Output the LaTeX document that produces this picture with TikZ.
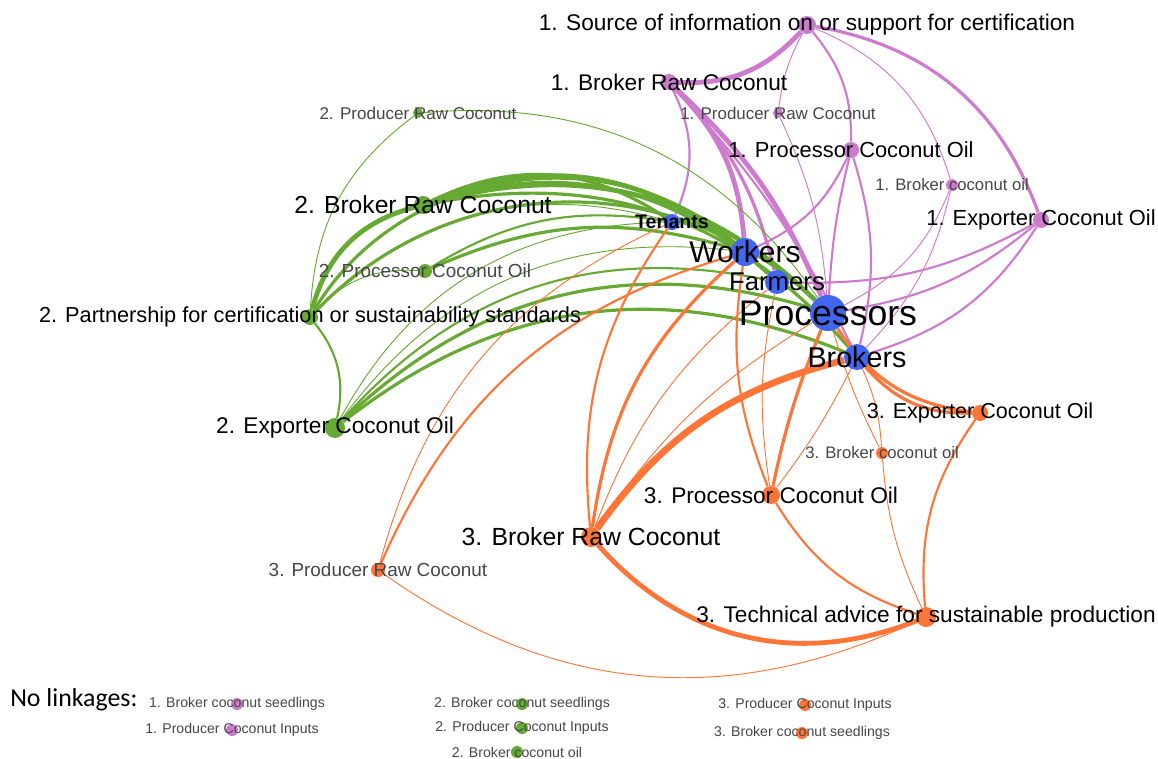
\documentclass[tikz,border=0pt]{standalone}
\usepackage{fontspec}
\setmainfont{Liberation Sans}
\newfontfamily\calibrifont{Carlito}
\definecolor{cpurple}{RGB}{206,122,206}
\definecolor{cgreen}{RGB}{102,170,51}
\definecolor{corange}{RGB}{255,117,56}
\definecolor{cblue}{RGB}{66,102,240}
\definecolor{labgray}{RGB}{70,70,70}
\pgfdeclarelayer{edges}
\pgfsetlayers{edges,main}
\begin{document}
\begin{tikzpicture}
[x=0.75pt, y=-0.75pt,
 dot/.style={circle, inner sep=0pt, minimum size=1.5*#1},
 bnode/.style={dot=#1, fill=cblue},
 pnode/.style={dot=#1, fill=cpurple},
 gnode/.style={dot=#1, fill=cgreen},
 onode/.style={dot=#1, fill=corange},
 txt/.style={font=\fontsize{#1}{#1}\selectfont, inner sep=0pt},
 gtxt/.style={txt=#1, text=labgray},
 edgeA/.style={line width=0.7pt},
 edgeB/.style={line width=1.6pt},
 edgeC/.style={line width=2.4pt},
 edgeD/.style={line width=3.6pt}]
\useasboundingbox (0,0) rectangle (1158,758);
% actors
\node[bnode=8, label={[txt=14.7, font=\fontsize{14.7}{14.7}\selectfont\bfseries]center:Tenants}] (tenants) at (672,222) {};
\node[bnode=14, label={[txt=22.5]center:Workers}] (workers) at (745,252) {};
\node[bnode=12, label={[txt=19.3]center:Farmers}] (farmers) at (777,282) {};
\node[bnode=18, label={[txt=26.7]center:Processors}] (processors) at (828,313) {};
\node[bnode=13, label={[txt=21.5]center:Brokers}] (brokers) at (857,357) {};
% 1. certification support
\node[pnode=9, label={[txt=17]center:1. Source of information on or support for certification}] (src1) at (807,25) {};
\node[pnode=8, label={[txt=17]center:1. Broker Raw Coconut}] (brc1) at (669,82) {};
\node[pnode=5, label={[gtxt=12.7]center:1. Producer Raw Coconut}] (prc1) at (778,113) {};
\node[pnode=8, label={[txt=16.4]center:1. Processor Coconut Oil}] (pco1) at (851,150) {};
\node[pnode=6, label={[gtxt=12.5]center:1. Broker coconut oil}] (bco1) at (952,185) {};
\node[pnode=8, label={[txt=16.4]center:1. Exporter Coconut Oil}] (exp1) at (1041,220) {};
% 2. partnership
\node[gnode=5, label={[gtxt=12.8]center:2. Producer Raw Coconut}] (prc2) at (418,113) {};
\node[gnode=9, label={[txt=18.5]center:2. Broker Raw Coconut}] (brc2) at (423,205) {};
\node[gnode=7, label={[gtxt=14.2]center:2. Processor Coconut Oil}] (pco2) at (425,271) {};
\node[gnode=8, label={[txt=16.3]center:2. Partnership for certification or sustainability standards}] (part2) at (310,317) {};
\node[gnode=10, label={[txt=17]center:2. Exporter Coconut Oil}] (exp2) at (335,428) {};
% 3. technical advice
\node[onode=8, label={[txt=16.2]center:3. Exporter Coconut Oil}] (exp3) at (980,413) {};
\node[onode=6, label={[gtxt=12.5]center:3. Broker coconut oil}] (bco3) at (882,453) {};
\node[onode=9, label={[txt=17]center:3. Processor Coconut Oil}] (pco3) at (771,495) {};
\node[onode=10, label={[txt=18.6]center:3. Broker Raw Coconut}] (brc3) at (591,537) {};
\node[onode=7, label={[gtxt=14.2]center:3. Producer Raw Coconut}] (prc3) at (378,570) {};
\node[onode=10, label={[txt=17]center:3. Technical advice for sustainable production}] (tech3) at (926,617) {};
% no linkages
\node[txt=19.4, font=\calibrifont\fontsize{19.4}{19.4}\selectfont, anchor=west] (nolink) at (10,700) {No linkages:};
\node[pnode=6, label={[gtxt=10.6]center:1. Broker coconut seedlings}] (bcs1) at (237,704) {};
\node[pnode=6, label={[gtxt=10.6]center:1. Producer Coconut Inputs}] (pci1) at (232,730) {};
\node[gnode=6, label={[gtxt=10.6]center:2. Broker coconut seedlings}] (bcs2) at (522,704) {};
\node[gnode=6, label={[gtxt=10.6]center:2. Producer Coconut Inputs}] (pci2) at (522,728) {};
\node[gnode=6, label={[gtxt=10.6]center:2. Broker coconut oil}] (bco2) at (517,752) {};
\node[onode=6, label={[gtxt=10.6]center:3. Producer Coconut Inputs}] (pci3) at (805,705) {};
\node[onode=6, label={[gtxt=10.6]center:3. Broker coconut seedlings}] (bcs3) at (802,733) {};
% linkages
\begin{pgfonlayer}{edges}
\begin{scope}[cpurple]
\draw[edgeD] (src1) to[bend left=25] (brc1);
\draw[edgeA] (src1) to[bend right=10] (prc1);
\draw[edgeB] (src1) to[bend left=20] (pco1);
\draw[edgeA] (src1) to[bend left=25] (bco1);
\draw[edgeC] (src1) to[bend left=30] (exp1);
\draw[edgeB] (brc1) to[bend left=25] (tenants);
\foreach \a/\w/\b in {workers/edgeD/20, farmers/edgeC/15, processors/edgeD/12, brokers/edgeB/8}
  \draw[\w] (brc1) to[bend left=\b] (\a);
\draw[edgeA] (prc1) to[bend left=10] (processors);
\draw[edgeB] (pco1) to[bend left=20] (workers);
\draw[edgeB] (pco1) to[bend right=5] (processors);
\draw[edgeB] (pco1) to[bend left=15] (brokers);
\draw[edgeA] (bco1) to[bend left=20] (processors);
\draw[edgeA] (bco1) to[bend left=15] (brokers);
\foreach \a/\b in {farmers/15, processors/15, brokers/20}
  \draw[edgeB] (exp1) to[bend left=\b] (\a);
\end{scope}
\begin{scope}[cgreen]
\draw[edgeD] (brc2) to[bend right=30] (part2);
\draw[edgeA] (prc2) to[bend right=25] (part2);
\draw[edgeA] (prc2) to[bend left=30] (processors);
\draw[edgeB] (part2) to[bend left=25] (exp2);
\draw[edgeA] (part2) to[bend left=25] (pco2);
\draw[edgeA] (part2) to[bend left=30] (tenants);
\draw[edgeC] (part2) to[bend left=50] (workers);
\draw[edgeC] (part2) to[bend left=45] (processors);
\foreach \a/\w in {tenants/edgeC, workers/edgeD, farmers/edgeC, processors/edgeD, brokers/edgeC}
  \draw[\w] (brc2) to[bend left=30] (\a);
\draw[edgeB] (pco2) to[bend left=20] (tenants);
\draw[edgeC] (pco2) to[bend left=20] (workers);
\foreach \a/\w in {tenants/edgeA, workers/edgeA, farmers/edgeB, processors/edgeC, brokers/edgeC}
  \draw[\w] (exp2) to[bend left=30] (\a);
\end{scope}
\begin{scope}[corange]
\foreach \a/\w/\b in {tenants/edgeB/20, workers/edgeC/20, farmers/edgeA/15, processors/edgeA/12}
  \draw[\w] (brc3) to[bend left=\b] (\a);
\draw[line width=5pt] (brc3) to[bend left=20] (brokers);
\draw[edgeD] (brc3) to[bend right=35] (tech3);
\draw[edgeA] (prc3) to[bend left=25] (tenants);
\draw[edgeB] (prc3) to[bend left=25] (workers);
\draw[edgeA] (prc3) to[bend right=30] (tech3);
\draw[edgeB] (pco3) to[bend left=15] (workers);
\draw[edgeA] (pco3) to[bend left=10] (farmers);
\draw[edgeC] (pco3) to[bend left=5] (processors);
\draw[edgeA] (pco3) to[bend right=5] (brokers);
\draw[edgeB] (pco3) to[bend right=20] (tech3);
\draw[edgeA] (bco3) to[bend right=10] (brokers);
\draw[edgeA] (bco3) to[bend left=5] (processors);
\draw[edgeA] (bco3) to[bend right=10] (tech3);
\draw[edgeC] (brokers) to[bend right=25] (exp3);
\draw[edgeC] (processors) to[bend right=25] (exp3);
\draw[edgeB] (exp3) to[bend right=20] (tech3);
\end{scope}
\end{pgfonlayer}
\end{tikzpicture}
\end{document}
